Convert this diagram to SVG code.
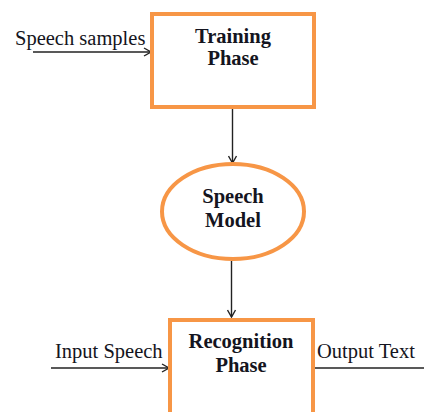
<svg xmlns="http://www.w3.org/2000/svg" width="424" height="412" viewBox="0 0 424 412">
<defs>
<style>
.box{fill:#fff;stroke:#F79646;stroke-width:4}
.t{font-family:"Liberation Serif","Times New Roman",serif;font-size:20.5px;fill:#141420}
.b{font-weight:bold;text-anchor:middle}
.c{stroke:#222;stroke-width:1.4;fill:none}
</style>
<marker id="ah" markerWidth="10" markerHeight="10" refX="8" refY="5" orient="auto" markerUnits="userSpaceOnUse">
<path d="M1,1 L8,5 L1,9" fill="none" stroke="#222" stroke-width="1.4"/>
</marker>
</defs>
<rect width="424" height="412" fill="#fff"/>
<g id="connectors">
<line class="c" x1="33" y1="52" x2="151" y2="52" marker-end="url(#ah)"/>
<line class="c" x1="232.5" y1="109" x2="232.5" y2="163" marker-end="url(#ah)"/>
<line class="c" x1="231.5" y1="261" x2="231.5" y2="317" marker-end="url(#ah)"/>
<line class="c" x1="51" y1="368" x2="169" y2="368" marker-end="url(#ah)"/>
<line class="c" x1="315" y1="368" x2="424" y2="368"/>
</g>
<g id="training">
<rect class="box" x="152" y="14" width="162" height="93"/>
<text class="t b" x="233" y="43">Training</text>
<text class="t b" x="233" y="65">Phase</text>
</g>
<g id="model">
<ellipse class="box" cx="233" cy="211.5" rx="71" ry="47.5"/>
<text class="t b" x="233" y="203">Speech</text>
<text class="t b" x="233" y="227">Model</text>
</g>
<g id="recognition">
<rect class="box" x="170" y="320" width="143" height="100"/>
<text class="t b" x="241" y="348">Recognition</text>
<text class="t b" x="241" y="372">Phase</text>
</g>
<g id="labels">
<text class="t" x="15" y="45">Speech samples</text>
<text class="t" x="55" y="358">Input Speech</text>
<text class="t" x="317" y="358">Output Text</text>
</g>
</svg>
